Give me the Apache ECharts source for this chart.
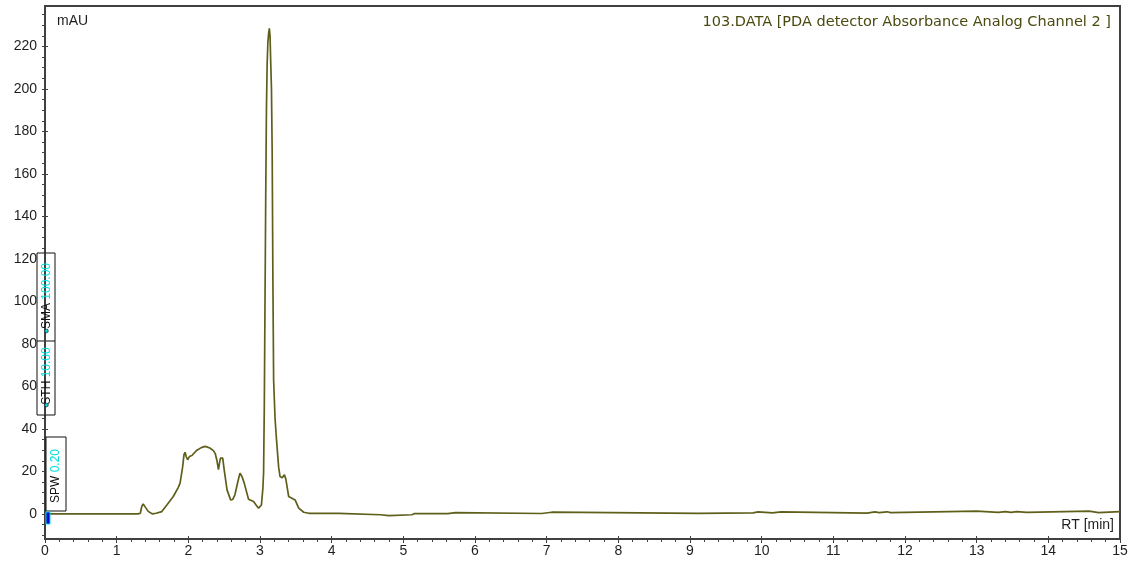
<!DOCTYPE html>
<html>
<head>
<meta charset="utf-8">
<script src="https://cdn.jsdelivr.net/npm/echarts@6/dist/echarts.min.js"></script>
<style>
html,body{margin:0;padding:0;background:#fff;}
#chart{width:1131px;height:564px;}
</style>
</head>
<body>
<div id="chart"></div>
<script>
// ---- data ----
const retentionTime = [
  0, 1.30, 1.33, 1.35, 1.37, 1.40, 1.44, 1.50, 1.55, 1.63, 1.70, 1.79, 1.86, 1.885, 1.92, 1.94, 1.955, 1.97, 1.99, 2.015,
  2.05, 2.12, 2.18, 2.235, 2.30, 2.35, 2.375, 2.40, 2.42, 2.44, 2.45, 2.48, 2.50, 2.54, 2.59, 2.62, 2.65, 2.69, 2.72, 2.75,
  2.78, 2.84, 2.91, 2.95, 2.98, 3.02, 3.04, 3.05, 3.06, 3.08, 3.09, 3.10, 3.11, 3.12, 3.13, 3.14, 3.15, 3.16, 3.17, 3.18,
  3.19, 3.21, 3.23, 3.26, 3.28, 3.31, 3.34, 3.36, 3.40, 3.445, 3.49, 3.54, 3.61, 3.68, 4.10, 4.12, 4.68, 4.70, 4.80, 4.82,
  5.12, 5.15, 5.62, 5.64, 5.73, 5.75, 6.93, 6.95, 7.07, 7.09, 9.12, 9.14, 9.88, 9.90, 9.95, 9.97, 10.15, 10.17, 10.27, 10.29,
  11.47, 11.49, 11.58, 11.60, 11.64, 11.66, 11.75, 11.77, 11.80, 11.82, 13.00, 13.02, 13.30, 13.32, 13.40, 13.42, 13.48, 13.50, 13.56, 13.58,
  13.70, 13.72, 14.57, 14.59, 14.70, 14.72, 15.00
];
const absorbance = [
  0, 0, 0.3, 3.5, 4.7, 3.2, 1.2, 0, 0.3, 1.1, 4.2, 8.2, 12.5, 14.5, 22, 28, 29, 27, 25.5, 27,
  27.5, 30, 31.2, 31.8, 31, 29.8, 28.4, 25, 20.8, 25, 26.3, 26.3, 20.8, 11.3, 6.6, 6.8, 9, 15, 19.2, 17.5,
  14.5, 6.9, 5.8, 4, 2.7, 4.2, 12, 19.4, 50.7, 150, 191, 212, 222, 226, 228.5, 225, 212, 200, 170, 110,
  63, 45, 35, 22, 17.6, 17, 18.4, 16.5, 8.2, 7.4, 6.6, 2.7, 0.8, 0.3, 0.3, -0.4, -0.4, -0.8, -0.8, -0.4,
  -0.4, 0.1, 0.1, 0.6, 0.6, 0.2, 0.2, 0.8, 0.8, 0.3, 0.3, 0.5, 0.5, 1.0, 1.0, 0.5, 0.5, 1.0, 1.0, 0.4,
  0.4, 1.0, 1.0, 0.6, 0.6, 1.0, 1.0, 0.6, 0.6, 1.3, 1.3, 0.7, 0.7, 1.1, 1.1, 0.7, 0.7, 1.1, 1.1, 0.7,
  0.7, 1.3, 1.3, 0.6, 0.6, 1.1, 1.1
];
const yLabelValues = [0, 20, 40, 60, 80, 100, 120, 140, 160, 180, 200, 220];
const yMinorValues = [-10, -5, 0, 5, 10, 15, 20, 25, 30, 35, 40, 45, 50, 55, 60, 65, 70, 75, 80, 85, 90, 95, 100,
  105, 110, 115, 120, 125, 130, 135, 140, 145, 150, 155, 160, 165, 170, 175, 180, 185, 190, 195, 200, 205, 210, 215, 220, 225, 230, 235];
const titleText = '103.DATA [PDA detector Absorbance Analog Channel 2 ]';
const yUnit = 'mAU';
const xUnit = 'RT [min]';
const annotations = [
  { name: 'SMA', value: '100.00' },
  { name: 'STH', value: '10.00' },
  { name: 'SPW', value: '0.20' }
];

// ---- chart ----
const lineData = retentionTime.map((t, i) => [t, absorbance[i]]);
const FONT = '"Liberation Sans", Arial, sans-serif';
const AXIS_COLOR = '#404040';
const TXT = '#1e1e1e';

const chart = echarts.init(document.getElementById('chart'), null, { renderer: 'canvas' });

function vText(x, y, a, z) {
  return {
    type: 'text', x: x, y: y, rotation: Math.PI / 2, z: z,
    style: {
      text: '{n|' + a.name + ' }{v|' + a.value + '}',
      align: 'center', verticalAlign: 'middle',
      rich: {
        n: { fontFamily: FONT, fontSize: 12, fill: '#111' },
        v: { fontFamily: FONT, fontSize: 12, fill: '#00e0e0', textShadowColor: '#0a2a2a', textShadowOffsetX: -0.7, textShadowOffsetY: 0.7, textShadowBlur: 0 }
      }
    }
  };
}

const option = {
  animation: false,
  backgroundColor: '#ffffff',
  grid: {
    left: 45, right: 11, top: 6, bottom: 25,
    show: true, borderColor: AXIS_COLOR, borderWidth: 2, backgroundColor: 'transparent'
  },
  xAxis: [
    {
      type: 'value', min: 0, max: 15, interval: 1, position: 'bottom',
      axisLine: { show: true, onZero: false, lineStyle: { color: AXIS_COLOR, width: 2 } },
      axisTick: { show: true, inside: false, length: 4, lineStyle: { color: AXIS_COLOR, width: 1 } },
      minorTick: { show: true, splitNumber: 5, length: 3, lineStyle: { color: AXIS_COLOR, width: 1 } },
      axisLabel: { fontFamily: FONT, fontSize: 14, color: TXT, margin: 5 },
      splitLine: { show: false }
    },
    {
      type: 'value', min: 0, max: 15, interval: 1, position: 'bottom',
      axisLine: { show: false, onZero: false },
      axisTick: { show: true, inside: true, length: 3, lineStyle: { color: AXIS_COLOR, width: 1 } },
      axisLabel: { show: false },
      splitLine: { show: false }
    }
  ],
  yAxis: [
    {
      type: 'value', min: -11.8, max: 239, position: 'left',
      axisLine: { show: true, onZero: false, lineStyle: { color: AXIS_COLOR, width: 2 } },
      axisTick: { show: true, inside: false, length: 3, customValues: yMinorValues, lineStyle: { color: AXIS_COLOR, width: 1 } },
      axisLabel: { customValues: yLabelValues, fontFamily: FONT, fontSize: 14, color: TXT, margin: 8 },
      splitLine: { show: false }
    },
    {
      type: 'value', min: -11.8, max: 239, position: 'left',
      axisLine: { show: false, onZero: false },
      axisTick: { show: true, inside: true, length: 3, customValues: yLabelValues, lineStyle: { color: AXIS_COLOR, width: 1 } },
      axisLabel: { show: false },
      splitLine: { show: false }
    }
  ],
  series: [
    {
      type: 'line', xAxisIndex: 0, yAxisIndex: 0,
      data: lineData, showSymbol: false, smooth: false,
      lineStyle: { color: '#5f5f1c', width: 1.7 },
      z: 3
    }
  ],
  graphic: [
    { type: 'text', left: 57, top: 14, z: 50,
      style: { text: yUnit, fontFamily: FONT, fontSize: 14, fill: TXT } },
    { type: 'text', right: 1131 - 1114, top: 518, z: 50,
      style: { text: xUnit, fontFamily: FONT, fontSize: 14, fill: TXT } },
    { type: 'text', right: 1131 - 1111, top: 15, z: 50,
      style: { text: titleText, fontFamily: '"DejaVu Sans", sans-serif', fontSize: 14.5, fill: '#4a4a10' } },
    // parameter boxes
    { type: 'rect', shape: { x: 37, y: 253, width: 18, height: 162 }, z: 60,
      style: { fill: '#ffffff', stroke: '#111', lineWidth: 1 } },
    { type: 'line', shape: { x1: 37, y1: 341, x2: 55, y2: 341 }, z: 61,
      style: { stroke: '#111', lineWidth: 1 } },
    { type: 'line', shape: { x1: 45, y1: 253, x2: 45, y2: 415 }, z: 61,
      style: { stroke: AXIS_COLOR, lineWidth: 2 } },
    vText(46.5, 296, annotations[0], 62),
    vText(46.5, 376, annotations[1], 62),
    { type: 'circle', shape: { cx: 46.5, cy: 331, r: 1.8 }, z: 63, style: { fill: '#00e0e0', stroke: '#0a2a2a', lineWidth: 0.7 } },
    { type: 'circle', shape: { cx: 46.5, cy: 405, r: 1.8 }, z: 63, style: { fill: '#00e0e0', stroke: '#0a2a2a', lineWidth: 0.7 } },
    { type: 'rect', shape: { x: 46, y: 437, width: 20, height: 74 }, z: 60,
      style: { fill: '#ffffff', stroke: '#111', lineWidth: 1 } },
    vText(56, 476, annotations[2], 62),
    { type: 'rect', shape: { x: 46, y: 512, width: 4, height: 12 }, z: 64,
      style: { fill: '#0000c8', stroke: '#00e0e0', lineWidth: 1 } }
  ]
};
chart.setOption(option);
</script>
</body>
</html>
